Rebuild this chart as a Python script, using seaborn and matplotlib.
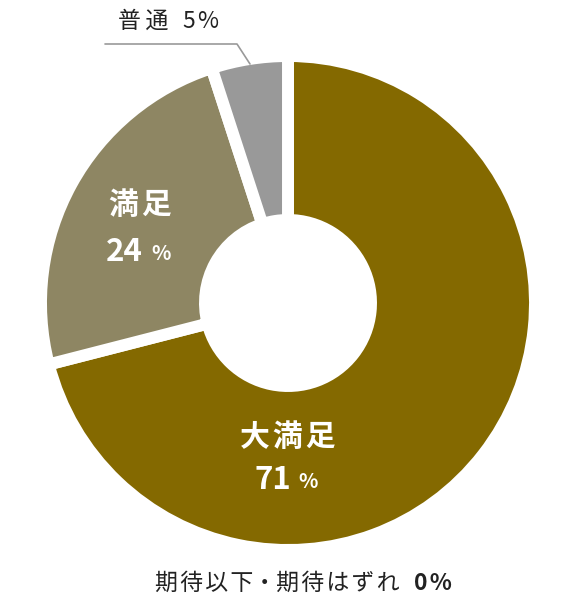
import matplotlib
matplotlib.use("Agg")
import matplotlib.pyplot as plt
import seaborn as sns

# data
labels = ["大満足", "満足", "普通", "期待以下・期待はずれ"]
values = [71, 24, 5, 0]
colors = ["#846900", "#8e8663", "#999999", "#cccccc"]

sns.set_theme(style="white")
plt.rcParams["font.family"] = ["Noto Sans CJK JP", "DejaVu Sans"]

fig = plt.figure(figsize=(5.72, 6.0), dpi=100)
ax = fig.add_axes([0, 0, 1, 1])

# only non-zero slices get a wedge
draw = [(v, c) for v, c in zip(values, colors) if v > 0]
ax.pie([d[0] for d in draw], colors=[d[1] for d in draw],
       startangle=90, counterclock=False,
       radius=247, center=(288, 600 - 303), frame=True,
       wedgeprops=dict(width=164, edgecolor="white", linewidth=8.6))

ax.set_xlim(0, 572)
ax.set_ylim(0, 600)
ax.set_aspect("equal")
ax.axis("off")

def Y(py):
    return 600 - py

def spaced(s, sp="\u2009"):
    # matplotlib has no letter-spacing, so pad with thin/hair spaces
    return sp.join(s)

# labels inside slices
ax.text(288, Y(437), spaced(labels[0], "\u200a"), color="white", fontsize=21.5,
        fontweight="bold", ha="center", va="center")
ax.text(291, Y(480), f"{values[0]}", color="white", fontsize=22.5, fontweight="bold",
        ha="right", va="center")
ax.text(298, Y(482), "%", color="white", fontsize=14.5, fontweight="bold",
        ha="left", va="center")

ax.text(140, Y(205), spaced(labels[1], "\u200a"), color="white", fontsize=21.5,
        fontweight="bold", ha="center", va="center")
ax.text(143, Y(252), f"{values[1]}", color="white", fontsize=22.5, fontweight="bold",
        ha="right", va="center")
ax.text(151, Y(254), "%", color="white", fontsize=14.5, fontweight="bold",
        ha="left", va="center")

# callout for small slice
ax.plot([105, 237, 250], [Y(44), Y(44), Y(64)], color="#999999", lw=1.2)
ax.text(118, Y(21), spaced(labels[2]), color="#222222", fontsize=16.5,
        ha="left", va="center")
ax.text(183, Y(21), f"{values[2]}\u200a%", color="#222222", fontsize=16.5,
        ha="left", va="center")

# zero category below the chart
first, second = labels[3].split("・")
ax.text(155, Y(583), spaced(first, "\u200a") + "・" + spaced(second, "\u200a"),
        color="#222222", fontsize=16.5, ha="left", va="center")
ax.text(452, Y(583), f"{values[3]}\u200a%", color="#222222", fontsize=16.5,
        fontweight="bold", ha="right", va="center")

fig.savefig("out.png", dpi=100)
